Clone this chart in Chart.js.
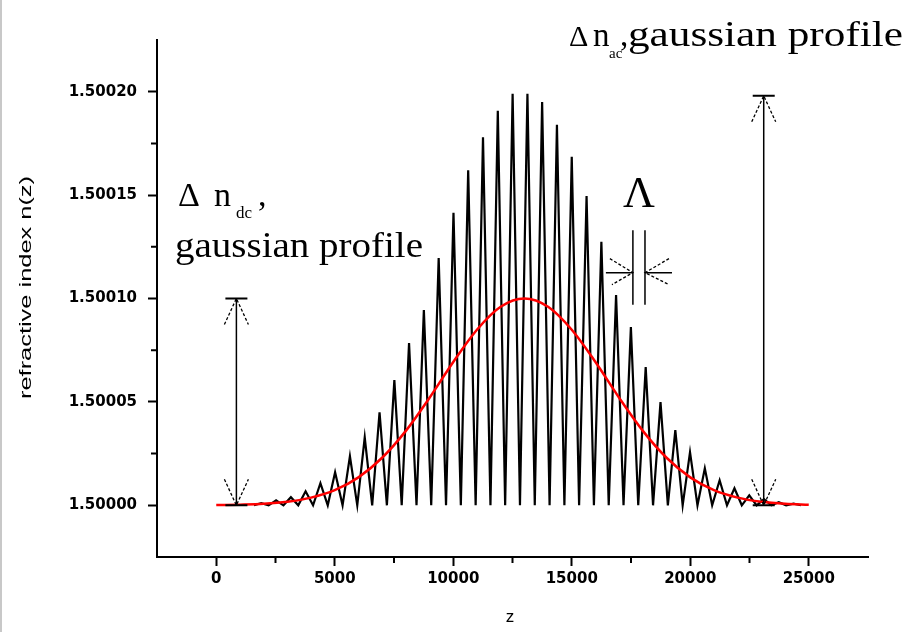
<!DOCTYPE html>
<html>
<head>
<meta charset="utf-8">
<script src="https://cdn.jsdelivr.net/npm/chart.js@4.4.0/dist/chart.umd.min.js"></script>
<style>
  html, body { margin: 0; padding: 0; background: #fff; }
  #wrap { width: 910px; height: 632px; position: relative; }
</style>
</head>
<body>
<div id="wrap"><canvas id="grating"></canvas></div>
<script>
// Apodised grating: n(z) with a gaussian dc profile and gaussian ac modulation

// z positions of the fringe maxima (black trace) and the index read at each one
const peakZ = [1900, 2525, 3150, 3770, 4395, 5015, 5640, 6265, 6890, 7515, 8135, 8760,
  9385, 10010, 10630, 11255, 11880, 12505, 13130, 13750, 14375, 15000, 15625, 16250,
  16870, 17495, 18120, 18745, 19370, 19990, 20615, 21240, 21865, 22490, 23110, 23735, 24360];
const peakN = [1.5000010, 1.5000024, 1.5000039, 1.5000068, 1.5000107, 1.5000160, 1.5000237,
  1.5000329, 1.5000450, 1.5000605, 1.5000785, 1.5000944, 1.5001196, 1.5001414, 1.5001620,
  1.5001780, 1.5001908, 1.5001990, 1.5001990, 1.5001950, 1.5001840, 1.5001685, 1.5001496,
  1.5001274, 1.5001017, 1.5000862, 1.5000668, 1.5000499, 1.5000363, 1.5000257, 1.5000179,
  1.5000121, 1.5000082, 1.5000048, 1.5000030, 1.5000015, 1.5000008];
// fringe minima all sit on the unperturbed index
const troughZ = [1590, 2210, 2835, 3460, 4085, 4705, 5330, 5950, 6580, 7200, 7825, 8450,
  9070, 9695, 10320, 10945, 11570, 12190, 12815, 13440, 14065, 14690, 15310, 15935, 16560,
  17185, 17805, 18430, 19055, 19680, 20305, 20925, 21550, 22175, 22800, 23425, 24045, 24670];
const baseIndex = 1.50000;

// dc (average) index, red trace
const dcZ = [0, 1000, 2000, 3000, 4000, 5000, 6000, 7000, 8000, 9000, 10000, 11000, 12000,
  13000, 14000, 15000, 16000, 17000, 18000, 19000, 20000, 21000, 22000, 23000, 24000, 25000];
const dcN = [1.5000001, 1.5000003, 1.5000007, 1.5000017, 1.5000037, 1.5000073, 1.5000135,
  1.5000230, 1.5000360, 1.5000520, 1.5000693, 1.5000849, 1.5000960, 1.5001000, 1.5000960,
  1.5000849, 1.5000693, 1.5000520, 1.5000360, 1.5000230, 1.5000135, 1.5000073, 1.5000037,
  1.5000017, 1.5000007, 1.5000003];

// axis ticks
const xTicks = [0, 5000, 10000, 15000, 20000, 25000];
const xMinor = [2500, 7500, 12500, 17500, 22500];
const yTicks = [1.50000, 1.50005, 1.50010, 1.50015, 1.50020];
const yMinor = [1.500025, 1.500075, 1.500125, 1.500175];

const acPoints = [];
for (let i = 0; i < troughZ.length; i++) {
  acPoints.push({ x: troughZ[i], y: baseIndex });
  if (i < peakZ.length) acPoints.push({ x: peakZ[i], y: peakN[i] });
}
const dcPoints = dcZ.map((z, i) => ({ x: z, y: dcN[i] }));

function fitText(ctx, text, x, y, w, font) {
  ctx.font = font;
  const m = ctx.measureText(text).width;
  ctx.save();
  ctx.translate(x, y);
  ctx.scale(w / m, 1);
  ctx.fillText(text, 0, 0);
  ctx.restore();
}

function vArrow(ctx, x, yTop, yBot) {
  ctx.lineWidth = 1.5;
  ctx.beginPath();
  ctx.moveTo(x, yTop); ctx.lineTo(x, yBot);
  ctx.stroke();
  ctx.lineWidth = 2;
  ctx.beginPath();
  ctx.moveTo(x - 11, yTop); ctx.lineTo(x + 11, yTop);
  ctx.moveTo(x - 11, yBot); ctx.lineTo(x + 11, yBot);
  ctx.stroke();
  ctx.lineWidth = 1.3;
  ctx.setLineDash([3, 2]);
  ctx.beginPath();
  ctx.moveTo(x - 12, yTop + 26); ctx.lineTo(x, yTop); ctx.lineTo(x + 12, yTop + 26);
  ctx.moveTo(x - 12, yBot - 26); ctx.lineTo(x, yBot); ctx.lineTo(x + 12, yBot - 26);
  ctx.stroke();
  ctx.setLineDash([]);
}

const extras = {
  id: 'extras',
  afterDraw(chart) {
    const ctx = chart.ctx;
    const xs = chart.scales.x, ys = chart.scales.y;
    ctx.save();
    ctx.strokeStyle = '#000';
    ctx.fillStyle = '#000';

    // minor ticks
    ctx.lineWidth = 2;
    ctx.beginPath();
    xMinor.forEach(v => {
      const p = xs.getPixelForValue(v);
      ctx.moveTo(p, ys.bottom); ctx.lineTo(p, ys.bottom + 6);
    });
    yMinor.forEach(v => {
      const p = ys.getPixelForValue(v);
      ctx.moveTo(xs.left, p); ctx.lineTo(xs.left - 6, p);
    });
    ctx.stroke();

    // double arrows for the dc and ac amplitudes
    vArrow(ctx, xs.getPixelForValue(850), ys.getPixelForValue(1.5001), ys.getPixelForValue(1.5));
    vArrow(ctx, xs.getPixelForValue(23100), ys.getPixelForValue(1.500198), ys.getPixelForValue(1.5));

    // period marker
    const l1 = xs.getPixelForValue(17580), l2 = xs.getPixelForValue(18090);
    const yt = ys.getPixelForValue(1.500133), yb = ys.getPixelForValue(1.500097);
    const ym = ys.getPixelForValue(1.5001125);
    ctx.lineWidth = 1.5;
    ctx.beginPath();
    ctx.moveTo(l1, yt); ctx.lineTo(l1, yb);
    ctx.moveTo(l2, yt); ctx.lineTo(l2, yb);
    ctx.moveTo(l1 - 27, ym); ctx.lineTo(l1, ym);
    ctx.moveTo(l2 + 27, ym); ctx.lineTo(l2, ym);
    ctx.stroke();
    ctx.lineWidth = 1.3;
    ctx.setLineDash([3, 2]);
    ctx.beginPath();
    ctx.moveTo(l1 - 23, ym - 14); ctx.lineTo(l1, ym); ctx.lineTo(l1 - 21, ym + 12);
    ctx.moveTo(l2 + 24, ym - 14); ctx.lineTo(l2, ym); ctx.lineTo(l2 + 24, ym + 12);
    ctx.stroke();
    ctx.setLineDash([]);

    // annotations
    ctx.textBaseline = 'alphabetic';
    ctx.textAlign = 'left';
    const serif = '"Liberation Serif", "DejaVu Serif", serif';
    ctx.font = '34px ' + serif;
    ctx.fillText('\u0394', 178, 206);
    ctx.fillText('n', 214, 206);
    ctx.fillText(',', 258, 206);
    ctx.font = '17px ' + serif;
    ctx.fillText('dc', 236, 218);
    fitText(ctx, 'gaussian profile', 175, 257, 248, '35px ' + serif);

    ctx.font = '30px ' + serif;
    ctx.fillText('\u0394', 569, 46);
    ctx.font = '33px ' + serif;
    ctx.fillText('n', 593, 46);
    ctx.fillText(',', 620, 46);
    ctx.font = '15px ' + serif;
    ctx.fillText('ac', 609, 58);
    fitText(ctx, 'gaussian profile', 628, 46, 275, '35px ' + serif);

    ctx.textAlign = 'center';
    ctx.font = '44px ' + serif;
    ctx.fillText('\u039B', 639, 207);

    // axis titles
    const sans = '"Liberation Sans", Arial, sans-serif';
    ctx.font = '17px ' + sans;
    ctx.fillText('z', 510, 622);
    ctx.save();
    ctx.translate(31, 288);
    ctx.rotate(-Math.PI / 2);
    ctx.textAlign = 'left';
    fitText(ctx, 'refractive index n(z)', -111, 0, 223, '17px ' + sans);
    ctx.restore();

    // faint frame edge on the left
    ctx.strokeStyle = '#c8c8c8';
    ctx.lineWidth = 2;
    ctx.beginPath();
    ctx.moveTo(1, 0); ctx.lineTo(1, 632);
    ctx.stroke();
    ctx.restore();
  }
};

const tickFont = { family: '"DejaVu Sans", sans-serif', size: 15, weight: 'bold' };

new Chart(document.getElementById('grating'), {
  type: 'line',
  data: {
    datasets: [
      {
        label: 'dc index',
        data: dcPoints,
        borderColor: '#ff0000',
        borderWidth: 2.5,
        pointRadius: 0,
        cubicInterpolationMode: 'monotone',
        fill: false
      },
      {
        label: 'n(z)',
        data: acPoints,
        borderColor: '#000000',
        borderWidth: 2.2,
        pointRadius: 0,
        tension: 0,
        fill: false
      }
    ]
  },
  options: {
    responsive: true,
    maintainAspectRatio: false,
    animation: false,
    layout: { padding: { top: 40, right: 42, left: 0, bottom: 0 } },
    plugins: {
      legend: { display: false },
      tooltip: { enabled: false },
      title: { display: false }
    },
    scales: {
      x: {
        type: 'linear',
        min: -2500,
        max: 27500,
        afterBuildTicks: s => { s.ticks = xTicks.map(v => ({ value: v })); },
        afterFit: s => { s.height = 75; },
        grid: { display: true, drawOnChartArea: false, drawTicks: true, tickLength: 9, tickColor: '#000', tickWidth: 2 },
        border: { display: true, color: '#000', width: 2 },
        ticks: {
          color: '#000',
          font: tickFont,
          padding: 4,
          maxRotation: 0,
          autoSkip: false,
          callback: v => String(v)
        }
      },
      y: {
        type: 'linear',
        min: 1.499975,
        max: 1.500225,
        afterBuildTicks: s => { s.ticks = yTicks.map(v => ({ value: v })); },
        afterFit: s => { s.width = 157; },
        grid: { display: true, drawOnChartArea: false, drawTicks: true, tickLength: 9, tickColor: '#000', tickWidth: 2 },
        border: { display: true, color: '#000', width: 2 },
        ticks: {
          color: '#000',
          font: tickFont,
          padding: 11,
          autoSkip: false,
          callback: v => v.toFixed(5)
        }
      }
    }
  },
  plugins: [extras]
});
</script>
</body>
</html>
